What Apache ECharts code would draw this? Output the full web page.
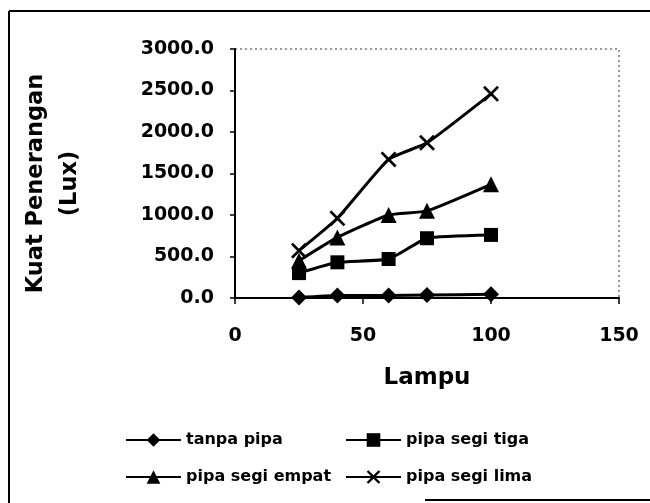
<!DOCTYPE html>
<html>
<head>
<meta charset="utf-8">
<script src="https://cdn.jsdelivr.net/npm/echarts@6/dist/echarts.min.js"></script>
<style>
  html, body { margin: 0; padding: 0; background: #fff; }
  #chart { width: 650px; height: 503px; }
</style>
</head>
<body>
<div id="chart"></div>
<script>
// Jumlah lampu (sumbu X) dan kuat penerangan tiap jenis pipa (Lux)
var lampu = [25, 40, 60, 75, 100];
var tanpaPipa = [5, 30, 30, 35, 45];
var pipaSegiTiga = [300, 430, 470, 720, 760];
var pipaSegiEmpat = [450, 730, 1000, 1050, 1370];
var pipaSegiLima = [570, 960, 1670, 1870, 2460];

var seriesNames = ['tanpa pipa', 'pipa segi tiga', 'pipa segi empat', 'pipa segi lima'];
var xTicks = [0, 50, 100, 150];
var yTicks = [0, 500, 1000, 1500, 2000, 2500, 3000];

var FONT = 'DejaVu Sans';
var crossPath = 'path://M0,1.2 L1.2,0 L5,3.8 L8.8,0 L10,1.2 L6.2,5 L10,8.8 L8.8,10 L5,6.2 L1.2,10 L0,8.8 L3.8,5 Z';

function pairs(ys) {
  return lampu.map(function (x, i) { return [x, ys[i]]; });
}

function lineSeries(name, values, symbol, size) {
  return {
    name: name,
    type: 'line',
    data: pairs(values),
    smooth: 0.15,
    symbol: symbol,
    symbolSize: size,
    showSymbol: true,
    lineStyle: { color: '#000', width: 3 },
    itemStyle: { color: '#000' },
    emphasis: { disabled: true },
    animation: false
  };
}

function legendAt(name, left, top) {
  return {
    data: [name],
    left: left,
    top: top,
    padding: 0,
    itemWidth: 55,
    itemHeight: 17,
    itemGap: 5,
    selectedMode: false,
    lineStyle: { width: 2 },
    textStyle: { fontFamily: FONT, fontWeight: 'bold', fontSize: 16, color: '#000' }
  };
}

var chart = echarts.init(document.getElementById('chart'), null, { renderer: 'canvas' });

chart.setOption({
  backgroundColor: '#fff',
  animation: false,
  textStyle: { fontFamily: FONT, fontWeight: 'bold', color: '#000' },
  grid: {
    left: 235, right: 31, top: 49, bottom: 205,
    show: true,
    borderColor: '#333',
    borderWidth: 1,
    borderType: [2, 3],
    backgroundColor: 'transparent'
  },
  xAxis: {
    type: 'value',
    min: xTicks[0],
    max: xTicks[xTicks.length - 1],
    interval: xTicks[1] - xTicks[0],
    name: 'Lampu',
    nameLocation: 'middle',
    nameGap: 69,
    nameTextStyle: { fontFamily: FONT, fontWeight: 'bold', fontSize: 23, color: '#000' },
    axisLine: { show: true, onZero: false, lineStyle: { color: '#000', width: 2 } },
    axisTick: { show: true, inside: false, length: 6, lineStyle: { color: '#000', width: 1.5 } },
    axisLabel: { margin: 29, fontFamily: FONT, fontWeight: 'bold', fontSize: 19, color: '#000' },
    splitLine: { show: false }
  },
  yAxis: {
    type: 'value',
    min: yTicks[0],
    max: yTicks[yTicks.length - 1],
    interval: yTicks[1] - yTicks[0],
    name: 'Kuat Penerangan\n(Lux)',
    nameLocation: 'middle',
    nameRotate: 90,
    nameGap: 148,
    nameTextStyle: {
      fontFamily: FONT, fontWeight: 'bold', fontSize: 22.5, lineHeight: 34, color: '#000',
      align: 'center', padding: [0, 20, 0, 0]
    },
    axisLine: { show: true, lineStyle: { color: '#000', width: 2 } },
    axisTick: { show: true, inside: false, length: 5, lineStyle: { color: '#000', width: 1.5 } },
    axisLabel: {
      margin: 21, fontFamily: FONT, fontWeight: 'bold', fontSize: 19, color: '#000',
      formatter: function (v) { return v.toFixed(1); }
    },
    splitLine: { show: false }
  },
  legend: [
    legendAt(seriesNames[0], 125, 432),
    legendAt(seriesNames[1], 345, 432),
    legendAt(seriesNames[2], 125, 469),
    legendAt(seriesNames[3], 345, 469)
  ],
  graphic: [
    { type: 'line', shape: { x1: 9, y1: 11, x2: 650, y2: 11 }, style: { stroke: '#000', lineWidth: 2 } },
    { type: 'line', shape: { x1: 9, y1: 11, x2: 9, y2: 503 }, style: { stroke: '#000', lineWidth: 2 } },
    { type: 'line', shape: { x1: 425, y1: 500, x2: 650, y2: 500 }, style: { stroke: '#000', lineWidth: 2 } }
  ],
  series: [
    lineSeries(seriesNames[0], tanpaPipa, 'diamond', 16),
    lineSeries(seriesNames[1], pipaSegiTiga, 'rect', 14),
    lineSeries(seriesNames[2], pipaSegiEmpat, 'triangle', 16),
    lineSeries(seriesNames[3], pipaSegiLima, crossPath, 16)
  ]
});
</script>
</body>
</html>
